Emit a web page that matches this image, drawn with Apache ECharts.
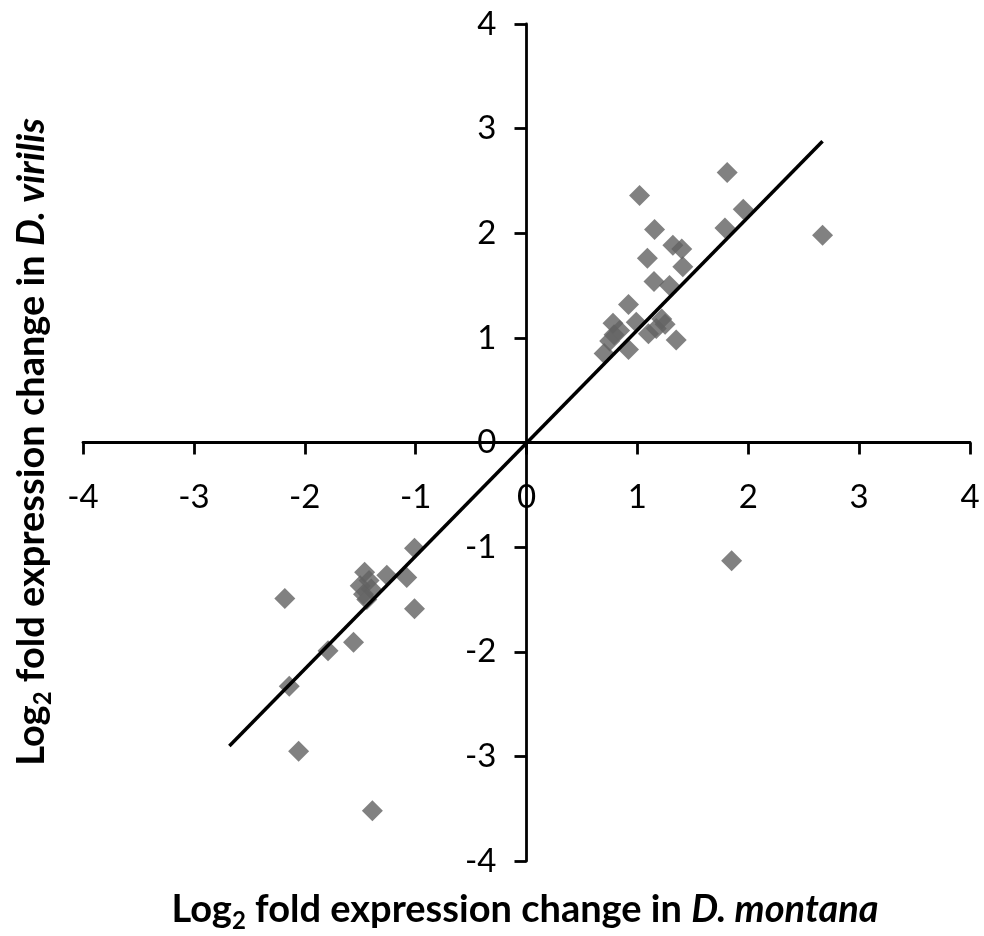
<!DOCTYPE html>
<html>
<head>
<meta charset="utf-8">
<script src="https://cdn.jsdelivr.net/npm/echarts@6/dist/echarts.min.js"></script>
<style>
html,body{margin:0;padding:0;background:#fff;}
#chart{width:984px;height:936px;}
</style>
</head>
<body>
<div id="chart"></div>
<script>
// D. montana (x) vs D. virilis (y) log2 fold changes
var montanaX = [1.81, 1.02, 1.955, 1.79, 2.67, 1.155, 1.32, 1.40, 1.09, 1.41, 1.15, 1.29, 0.92,
  0.70, 0.75, 0.79, 0.78, 0.84, 0.92, 0.99, 1.10, 1.17, 1.22, 1.25, 1.35, 1.85,
  -1.01, -2.18, -1.46, -1.26, -1.08, -1.50, -1.40, -1.44, -1.01, -1.56, -1.79, -2.14, -2.055, -1.39, -1.42, -1.47];
var virilisY = [2.58, 2.36, 2.23, 2.05, 1.98, 2.035, 1.885, 1.85, 1.76, 1.68, 1.54, 1.50, 1.32,
  0.85, 0.97, 1.03, 1.14, 1.07, 0.89, 1.15, 1.04, 1.09, 1.18, 1.13, 0.98, -1.13,
  -1.01, -1.49, -1.24, -1.27, -1.29, -1.37, -1.40, -1.50, -1.59, -1.91, -1.99, -2.33, -2.95, -3.52, -1.32, -1.45];
var trendX = [-2.68, 2.67];
var trendY = [-2.90, 2.88];
var tickMin = -4, tickMax = 4, tickStep = 1;

var pts = montanaX.map(function (x, i) { return [x, virilisY[i]]; });
var trend = trendX.map(function (x, i) { return [x, trendY[i]]; });

var W = 984, H = 936;
var G = { left: 83, right: 14, top: 24, bottom: 75 };
var gw = W - G.left - G.right, gh = H - G.top - G.bottom;
// offsets that put each axis (with its labels) through the origin
var xOff = -(gh * (0 - tickMin) / (tickMax - tickMin));
var yOff = -(gw * (0 - tickMin) / (tickMax - tickMin));

var chart = echarts.init(document.getElementById('chart'));
var FONT = 'Lato';
function axis(pos, off, margin) {
  return {
    type: 'value', min: tickMin, max: tickMax, interval: tickStep,
    position: pos, offset: off,
    axisLine: { onZero: false, lineStyle: { color: '#000', width: 2.8 } },
    axisTick: { show: true, length: 12, lineStyle: { color: '#000', width: 2.8 } },
    splitLine: { show: false },
    axisLabel: { color: '#000', fontFamily: FONT, fontSize: 33, margin: margin }
  };
}
var richTitle = {
  a: { fontFamily: FONT, fontWeight: 'bold', fontSize: 38, color: '#000', lineHeight: 46 },
  i: { fontFamily: FONT, fontWeight: 'bold', fontStyle: 'italic', fontSize: 38, color: '#000', lineHeight: 46 },
  s: { fontFamily: FONT, fontWeight: 'bold', fontSize: 24, color: '#000', lineHeight: 46, verticalAlign: 'bottom', padding: [16, 0, 0, 0] }
};
chart.setOption({
  backgroundColor: '#fff',
  animation: false,
  grid: { left: G.left, right: G.right, top: G.top, bottom: G.bottom, containLabel: false },
  xAxis: axis('bottom', xOff, 38),
  yAxis: axis('left', yOff, 30),
  series: [
    {
      type: 'scatter', data: pts, symbol: 'diamond', symbolSize: 21,
      itemStyle: { color: '#626262' }, z: 2
    },
    {
      type: 'line', data: trend, showSymbol: false, symbol: 'none',
      lineStyle: { color: '#000', width: 3.5 }, z: 3
    }
  ],
  graphic: [
    {
      type: 'text', x: 525, y: 910,
      style: {
        text: '{a|Log}{s|2}{a| fold expression change in }{i|D. montana}',
        rich: richTitle, align: 'center', verticalAlign: 'middle'
      }
    },
    {
      type: 'text', x: 32, y: 442, rotation: Math.PI / 2,
      style: {
        text: '{a|Log}{s|2}{a| fold expression change in }{i|D. virilis}',
        rich: richTitle, align: 'center', verticalAlign: 'middle'
      }
    }
  ]
});
</script>
</body>
</html>
